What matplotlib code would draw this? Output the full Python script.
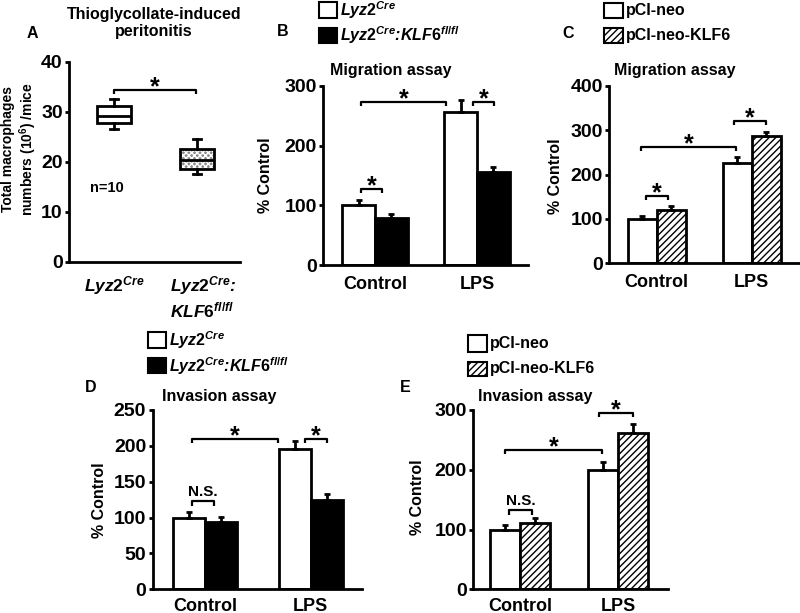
import matplotlib
matplotlib.use('Agg')
import matplotlib.pyplot as plt
from matplotlib.patches import Rectangle, PathPatch
import numpy as np

W, H = 800, 613
plt.rcParams['font.family'] = ['Liberation Sans', 'DejaVu Sans']
plt.rcParams['font.weight'] = 'bold'
plt.rcParams['mathtext.fontset'] = 'custom'
plt.rcParams['mathtext.it'] = 'Liberation Sans:italic:bold'
plt.rcParams['mathtext.rm'] = 'Liberation Sans:bold'
plt.rcParams['mathtext.bf'] = 'Liberation Sans:bold'
plt.rcParams['mathtext.default'] = 'it'
plt.rcParams['hatch.linewidth'] = 1.0

# ---------------- data ----------------
# Panel A (box plots)
a_labels = [r'$\mathit{Lyz2}^{\mathit{Cre}}$',
            r'$\mathit{Lyz2}^{\mathit{Cre}}$:' + '\n' + r'$\mathit{KLF6}^{\mathit{fl/fl}}$']
a_whislo = [26.5, 17.5]
a_q1 = [27.7, 18.5]
a_med = [29.1, 20.3]
a_q3 = [31.2, 22.5]
a_whishi = [32.5, 24.5]

groups = ['Control', 'LPS']

# Panel B: migration, Lyz2Cre vs Lyz2Cre:KLF6fl/fl
b_wt = [100, 257]
b_wt_err = [9, 20]
b_ko = [78, 156]
b_ko_err = [8, 9]

# Panel C: migration, pCI-neo vs pCI-neo-KLF6
c_neo = [100, 227]
c_neo_err = [7, 12]
c_klf = [120, 287]
c_klf_err = [9, 10]

# Panel D: invasion, Lyz2Cre vs Lyz2Cre:KLF6fl/fl
d_wt = [100, 195]
d_wt_err = [8, 12]
d_ko = [94, 124.5]
d_ko_err = [7, 8]

# Panel E: invasion, pCI-neo vs pCI-neo-KLF6
e_neo = [100, 200]
e_neo_err = [8, 13]
e_klf = [111, 261]
e_klf_err = [8, 15]

lyz_label = r'$\mathit{Lyz2}^{\mathit{Cre}}$'
lyzko_label = r'$\mathit{Lyz2}^{\mathit{Cre}}$:$\mathit{KLF6}^{\mathit{fl/fl}}$'
neo_label = 'pCI-neo'
klf_label = 'pCI-neo-KLF6'

# ---------------- figure ----------------
fig = plt.figure(figsize=(W / 100, H / 100), dpi=100)


def px_axes(left, top, right, bottom):
    return fig.add_axes([left / W, 1 - bottom / H, (right - left) / W, (bottom - top) / H])


def style(ax, yticks, ylim, xlim, xpad=8):
    for s in ['top', 'right']:
        ax.spines[s].set_visible(False)
    for s in ['left', 'bottom']:
        ax.spines[s].set_linewidth(2)
        ax.spines[s].set_zorder(5)
    ax.set_ylim(*ylim)
    ax.set_xlim(*xlim)
    ax.set_yticks(yticks)
    ax.tick_params(axis='y', length=3, width=2, pad=1.5, labelsize=14)
    ax.tick_params(axis='x', length=0, pad=xpad, labelsize=13)


def ftext(x, y, s, **kw):
    return fig.text(x / W, 1 - y / H, s, **kw)


def bracket(ax, x1, x2, y, drop, text='*', fs=18, off=-3):
    ax.plot([x1, x1, x2, x2], [y - drop, y, y, y - drop], color='k', lw=1.6,
            solid_capstyle='butt', clip_on=False)
    ax.annotate(text, xy=((x1 + x2) / 2, y), xytext=(0, off), textcoords='offset points',
                ha='center', va='baseline', fontsize=fs, fontweight='bold')


def bars(ax, v1, e1, v2, e2, w, face2, hatch2=None):
    x = np.arange(len(groups))
    ax.bar(x - w / 2, v1, w, color='white', edgecolor='black', linewidth=2, zorder=2)
    ax.bar(x + w / 2, v2, w, color=face2, edgecolor='black', linewidth=2, hatch=hatch2, zorder=2)
    ax.errorbar(x - w / 2, v1, yerr=[np.zeros(len(v1)), e1], fmt='none', ecolor='black',
                elinewidth=2, capsize=2.5, capthick=2, zorder=3)
    ax.errorbar(x + w / 2, v2, yerr=[np.zeros(len(v2)), e2], fmt='none', ecolor='black',
                elinewidth=2, capsize=2.5, capthick=2, zorder=3)
    ax.set_xticks(x)
    ax.set_xticklabels(groups)


def legend(x0, x1, rows, labels, faces, hatches, fs=11.5):
    for (y0, y1), lab, fc, hat in zip(rows, labels, faces, hatches):
        fig.add_artist(Rectangle((x0 / W, 1 - y1 / H), (x1 - x0) / W, (y1 - y0) / H,
                                 transform=fig.transFigure, facecolor=fc, edgecolor='black',
                                 linewidth=1.5, hatch=hat))
        ftext(x1 + 3, (y0 + y1) / 2, lab, ha='left', va='center', fontsize=fs,
              fontstyle='italic' if '$' in lab else 'normal')


# ---------- Panel A ----------
axA = px_axes(69, 61.7, 240, 261.7)
style(axA, [0, 10, 20, 30, 40], (0, 40), (0.458, 2.518))
stats = [dict(whislo=a_whislo[i], q1=a_q1[i], med=a_med[i], q3=a_q3[i], whishi=a_whishi[i])
         for i in range(2)]
bp = axA.bxp(stats, positions=[1, 2], widths=0.42, showfliers=False, patch_artist=True,
             capwidths=0.09,
             boxprops=dict(facecolor='white', edgecolor='black', linewidth=2),
             medianprops=dict(color='black', linewidth=2),
             whiskerprops=dict(color='black', linewidth=2),
             capprops=dict(color='black', linewidth=2))
box2 = bp['boxes'][1]
under = PathPatch(box2.get_path(), facecolor='#8c8c8c', edgecolor='white', hatch='xxxxxx',
                  linewidth=0, zorder=box2.get_zorder() - 0.1)
axA.add_patch(under)
box2.set_facecolor('none')
axA.set_xticks([1, 2.07])
axA.set_xticklabels(a_labels, fontsize=12.5, fontstyle='italic')
for lbl in axA.get_xticklabels():
    lbl.set_multialignment('left')
axA.tick_params(axis='x', pad=9)
bracket(axA, 1, 1.988, 34.3, 0.8)
axA.text(0.92, 14.7, 'n=10', ha='center', va='center', fontsize=10.5)
ftext(154, 23, 'Thioglycollate-induced\nperitonitis', ha='center', va='center', fontsize=11.5)
ftext(32, 33, 'A', ha='center', va='center', fontsize=11.5)
ftext(20, 149, 'Total macrophages\nnumbers (10$^{\\mathrm{6}}$) /mice', ha='center', va='center',
      rotation=90, fontsize=10)

# ---------- Panel B ----------
axB = px_axes(323.3, 86, 528, 265)
style(axB, [0, 100, 200, 300], (0, 300), (-0.507, 1.5))
bars(axB, b_wt, b_wt_err, b_ko, b_ko_err, 0.32, 'black')
bracket(axB, -0.140, 0.069, 127.4, 6.7)
bracket(axB, -0.140, 0.696, 273.7, 7.2)
bracket(axB, 0.958, 1.167, 273.7, 7.2)
ftext(391, 70, 'Migration assay', ha='center', va='center', fontsize=11.5)
ftext(283, 31, 'B', ha='center', va='center', fontsize=11.5)
ftext(266, 175, '% Control', ha='center', va='center', rotation=90, fontsize=11.5)
legend(319.3, 336.7, [(2, 18), (28, 43)], [lyz_label, lyzko_label], ['white', 'black'], [None, None])

# ---------- Panel C ----------
axC = px_axes(609, 86, 800, 263.3)
style(axC, [0, 100, 200, 300, 400], (0, 400), (-0.502, 1.508))
bars(axC, c_neo, c_neo_err, c_klf, c_klf_err, 0.305, 'white', '/////')
bracket(axC, -0.116, 0.122, 152.5, 9.7)
bracket(axC, -0.168, 0.835, 263, 9.7)
bracket(axC, 0.814, 1.151, 321.7, 9.7)
ftext(675, 70, 'Migration assay', ha='center', va='center', fontsize=11.5)
ftext(568, 33, 'C', ha='center', va='center', fontsize=11.5)
ftext(556, 176, '% Control', ha='center', va='center', rotation=90, fontsize=11.5)
legend(604, 623.3, [(3, 18.3), (28.3, 43.3)], [neo_label, klf_label], ['white', 'white'],
       [None, '/////'])

# ---------- Panel D ----------
axD = px_axes(152.5, 410, 361.7, 589.3)
style(axD, [0, 50, 100, 150, 200, 250], (0, 250), (-0.497, 1.483), xpad=6)
bars(axD, d_wt, d_wt_err, d_ko, d_ko_err, 0.303, 'black')
bracket(axD, -0.126, 0.088, 123, 7, text='N.S.', fs=11, off=3.5)
bracket(axD, -0.12, 0.688, 209.6, 6)
bracket(axD, 0.946, 1.151, 209.6, 6)
ftext(219, 396, 'Invasion assay', ha='center', va='center', fontsize=11.5)
ftext(91, 387, 'D', ha='center', va='center', fontsize=11.5)
ftext(99.5, 500, '% Control', ha='center', va='center', rotation=90, fontsize=11.5)
legend(148.3, 165.7, [(331.7, 348.3), (358.3, 373.3)], [lyz_label, lyzko_label],
       ['white', 'black'], [None, None])

# ---------- Panel E ----------
axE = px_axes(473.3, 410, 668, 589.3)
style(axE, [0, 100, 200, 300], (0, 300), (-0.477, 1.51), xpad=6)
bars(axE, e_neo, e_neo_err, e_klf, e_klf_err, 0.31, 'white', '/////')
bracket(axE, -0.109, 0.119, 132.7, 8.4, text='N.S.', fs=11, off=3.5)
bracket(axE, -0.153, 0.834, 233, 7.2)
bracket(axE, 0.809, 1.15, 295.5, 7.2)
ftext(534.7, 396, 'Invasion assay', ha='center', va='center', fontsize=11.5)
ftext(405, 387, 'E', ha='center', va='center', fontsize=11.5)
ftext(417, 497, '% Control', ha='center', va='center', rotation=90, fontsize=11.5)
legend(468.3, 487.3, [(335, 351.7), (361.7, 376)], [neo_label, klf_label], ['white', 'white'],
       [None, '/////'])

fig.savefig('out.png', dpi=100)
